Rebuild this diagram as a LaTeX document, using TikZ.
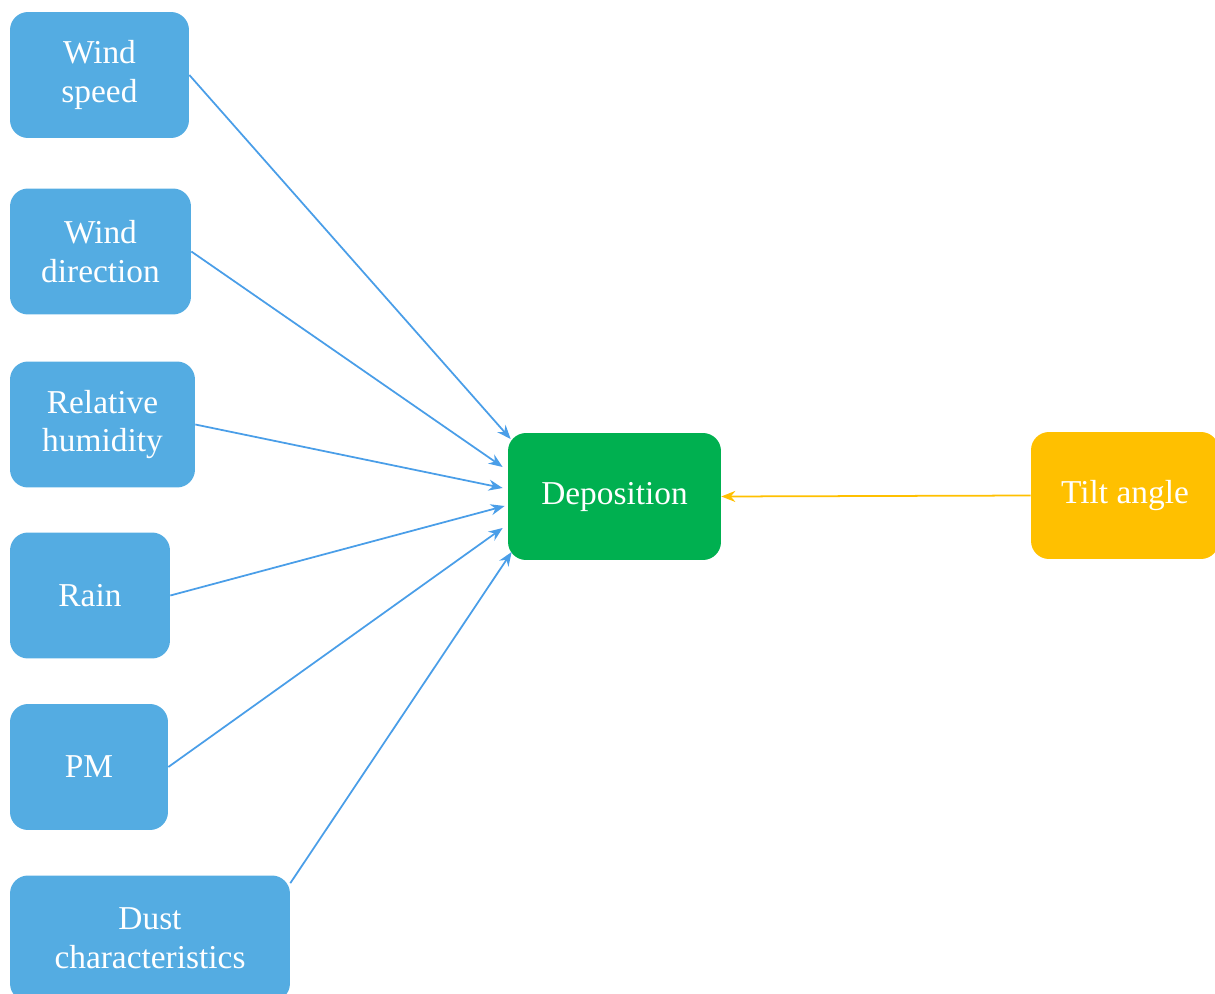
\documentclass[tikz,border=0pt]{standalone}
\usepackage{fontspec}
\setmainfont{Liberation Serif}
\usetikzlibrary{arrows.meta,positioning}
\definecolor{factorblue}{RGB}{84,172,226}
\definecolor{linkblue}{RGB}{74,158,232}
\definecolor{depgreen}{RGB}{0,176,80}
\definecolor{tiltgold}{RGB}{255,192,0}

\begin{document}
\begin{tikzpicture}[x=0.02cm, y=-0.02cm, >={Stealth[length=0.28cm,width=0.22cm]}, font=\fontsize{19}{22}\selectfont,
  factor/.style={fill=factorblue, text=white, rounded corners=0.36cm, minimum height=2.52cm, align=center, inner sep=0pt},
  link/.style={->, draw=linkblue, line width=1pt}]
  \useasboundingbox (0,0) rectangle (1215,994);
  % inputs on the left
  \node[factor, minimum width=3.58cm] (wspeed) at (99.5,75) {Wind\\speed};
  \node[factor, minimum width=3.62cm] (wdir) at (100.5,251.5) {Wind\\direction};
  \node[factor, minimum width=3.70cm] (humid) at (102.5,424.5) {Relative\\humidity};
  \node[factor, minimum width=3.20cm] (rain) at (90,595.5) {Rain};
  \node[factor, minimum width=3.16cm] (pm) at (89,767) {PM};
  \node[factor, minimum width=5.60cm] (dust) at (150,938.5) {Dust\\characteristics};
  % target and tilt
  \node[factor, fill=depgreen, minimum width=4.26cm, minimum height=2.54cm] (depo) at (614.5,496.5) {Deposition};
  \node[factor, fill=tiltgold, minimum width=3.76cm, minimum height=2.54cm] (tilt) at (1125,495.5) {Tilt angle};
  \draw[link] (wspeed.east) -- ([xshift=0.06cm,yshift=1.15cm]depo.west);
  \draw[link] (wdir.east) -- ([xshift=-0.1cm,yshift=0.59cm]depo.west);
  \draw[link] (humid.east) -- ([xshift=-0.1cm,yshift=0.17cm]depo.west);
  \draw[link] (rain.east) -- ([xshift=-0.06cm,yshift=-0.19cm]depo.west);
  \draw[link] (pm.east) -- ([xshift=-0.1cm,yshift=-0.63cm]depo.west);
  \draw[link] ([yshift=-0.16cm]dust.north east) -- ([xshift=0.08cm,yshift=-1.11cm]depo.west);
  \draw[link, draw=tiltgold] (tilt.west) -- (depo.east);
\end{tikzpicture}
\end{document}
